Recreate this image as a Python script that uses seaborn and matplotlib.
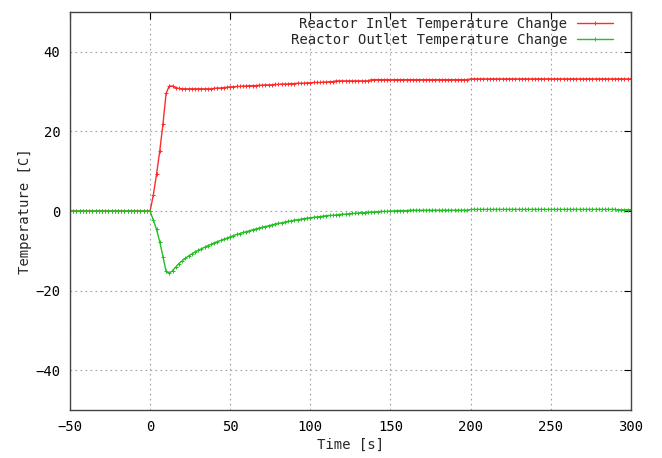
import matplotlib
matplotlib.use("Agg")
import matplotlib.pyplot as plt
import seaborn as sns
import pandas as pd

# Sample times [s], every 2 s from -50 to 300
time_s = list(range(-50, 301, 2))

# Reactor inlet temperature change [C]
inlet_change = [
    # -50 .. -2
    0.0, 0.0, 0.0, 0.0, 0.0, 0.0, 0.0, 0.0, 0.0, 0.0,
    0.0, 0.0, 0.0, 0.0, 0.0, 0.0, 0.0, 0.0, 0.0, 0.0,
    0.0, 0.0, 0.0, 0.0, 0.0,
    # 0 .. 38
    0.0, 4.0, 9.2, 15.0, 21.8, 29.6, 31.4, 31.4, 31.0, 30.8,
    30.7, 30.7, 30.7, 30.7, 30.7, 30.7, 30.7, 30.7, 30.7, 30.7,
    # 40 .. 78
    30.8, 30.9, 30.9, 31.0, 31.1, 31.2, 31.2, 31.3, 31.3, 31.4,
    31.4, 31.5, 31.5, 31.5, 31.6, 31.6, 31.7, 31.7, 31.7, 31.8,
    # 80 .. 118
    31.8, 31.9, 31.9, 31.9, 32.0, 32.0, 32.1, 32.1, 32.1, 32.2,
    32.2, 32.3, 32.3, 32.3, 32.4, 32.4, 32.5, 32.5, 32.7, 32.7,
    # 120 .. 158
    32.7, 32.7, 32.7, 32.7, 32.7, 32.7, 32.7, 32.7, 32.7, 33.0,
    33.0, 33.0, 33.0, 33.0, 33.0, 33.0, 33.0, 33.0, 33.0, 33.0,
    # 160 .. 198
    33.0, 33.0, 33.0, 33.0, 33.0, 33.0, 33.0, 33.0, 33.0, 33.0,
    33.0, 33.0, 33.0, 33.0, 33.0, 33.0, 33.0, 33.0, 33.0, 33.0,
    # 200 .. 238
    33.2, 33.2, 33.2, 33.2, 33.2, 33.2, 33.2, 33.2, 33.2, 33.2,
    33.2, 33.2, 33.2, 33.2, 33.2, 33.2, 33.2, 33.2, 33.2, 33.2,
    # 240 .. 278
    33.2, 33.2, 33.2, 33.2, 33.2, 33.2, 33.2, 33.2, 33.2, 33.2,
    33.2, 33.2, 33.2, 33.2, 33.2, 33.2, 33.2, 33.2, 33.2, 33.2,
    # 280 .. 300
    33.2, 33.2, 33.2, 33.2, 33.2, 33.2, 33.2, 33.2, 33.2, 33.2,
    33.2,
]

# Reactor outlet temperature change [C]
outlet_change = [
    # -50 .. -2
    0.0, 0.0, 0.0, 0.0, 0.0, 0.0, 0.0, 0.0, 0.0, 0.0,
    0.0, 0.0, 0.0, 0.0, 0.0, 0.0, 0.0, 0.0, 0.0, 0.0,
    0.0, 0.0, 0.0, 0.0, 0.0,
    # 0 .. 38
    0.0, -2.3, -4.6, -7.7, -11.5, -15.2, -15.6, -15.0, -14.1, -13.2,
    -12.5, -11.9, -11.3, -10.8, -10.3, -9.9, -9.5, -9.1, -8.7, -8.4,
    # 40 .. 78
    -8.0, -7.7, -7.4, -7.1, -6.8, -6.5, -6.2, -5.9, -5.7, -5.4,
    -5.2, -5.0, -4.7, -4.5, -4.3, -4.1, -3.9, -3.7, -3.5, -3.3,
    # 80 .. 118
    -3.1, -3.0, -2.8, -2.6, -2.5, -2.3, -2.2, -2.1, -1.9, -1.8,
    -1.7, -1.6, -1.5, -1.4, -1.3, -1.2, -1.1, -1.1, -1.0, -0.9,
    # 120 .. 158
    -0.8, -0.8, -0.7, -0.6, -0.6, -0.5, -0.4, -0.4, -0.3, -0.3,
    -0.2, -0.2, -0.1, -0.1, -0.1, 0.0, 0.0, 0.1, 0.1, 0.1,
    # 160 .. 198
    0.1, 0.2, 0.2, 0.2, 0.2, 0.2, 0.2, 0.2, 0.2, 0.2,
    0.2, 0.2, 0.2, 0.2, 0.2, 0.2, 0.2, 0.2, 0.2, 0.2,
    # 200 .. 238
    0.4, 0.4, 0.4, 0.4, 0.4, 0.4, 0.4, 0.4, 0.4, 0.4,
    0.4, 0.4, 0.4, 0.4, 0.4, 0.4, 0.4, 0.4, 0.4, 0.4,
    # 240 .. 278
    0.4, 0.4, 0.4, 0.4, 0.4, 0.4, 0.4, 0.4, 0.4, 0.4,
    0.4, 0.4, 0.4, 0.4, 0.4, 0.4, 0.4, 0.4, 0.4, 0.4,
    # 280 .. 300
    0.4, 0.4, 0.4, 0.4, 0.4, 0.4, 0.3, 0.3, 0.3, 0.3,
    0.3,
]

series_labels = ["Reactor Inlet Temperature Change", "Reactor Outlet Temperature Change"]
x_ticks = [-50, 0, 50, 100, 150, 200, 250, 300]
y_ticks = [-40, -20, 0, 20, 40]

sns.set_theme(style="white")
plt.rcParams["font.family"] = ["DejaVu Sans Mono", "DejaVu Sans"]

df = pd.DataFrame({
    "time": time_s * 2,
    "temp": inlet_change + outlet_change,
    "series": [series_labels[0]] * len(time_s) + [series_labels[1]] * len(time_s),
})

fig = plt.figure(figsize=(6.62, 4.58), dpi=100)
ax = fig.add_axes([0.1057, 0.1048, 0.8473, 0.869])

sns.lineplot(
    data=df, x="time", y="temp", hue="series",
    palette=["#ff2a2a", "#22c022"], marker="+", markersize=2.6,
    markeredgewidth=0.7, linewidth=1.0, dashes=False, ax=ax, legend=True,
)
# markers take the colour of their own line
for ln in ax.lines:
    ln.set_linestyle("-")
    ln.set_markeredgecolor(ln.get_color())

ax.set_xlim(-50, 300)
ax.set_ylim(-50, 50)
ax.set_xticks(x_ticks)
ax.set_yticks(y_ticks)
ax.tick_params(axis="both", direction="in", length=5, width=0.8,
               top=True, right=True, labelsize=10, colors="black", pad=7)
ax.grid(True, linestyle=(0, (1.5, 3)), color="#a0a0a0", linewidth=0.8)
for sp in ax.spines.values():
    sp.set_color("#444444")
    sp.set_linewidth(1.0)

ax.set_xlabel("Time [s]", fontsize=10, labelpad=3)
ax.set_ylabel("Temperature [C]", fontsize=10, labelpad=2)

leg = ax.legend(loc="upper right", bbox_to_anchor=(0.968, 0.987),
                frameon=False, markerfirst=False,
                fontsize=10, handlelength=2.6, handletextpad=0.7,
                borderpad=0.0, borderaxespad=0.0, labelspacing=0.1,
                title=None)
for ln in leg.get_lines():
    ln.set_linestyle("-")
    ln.set_markeredgecolor(ln.get_color())

fig.savefig("out.png", dpi=100)
